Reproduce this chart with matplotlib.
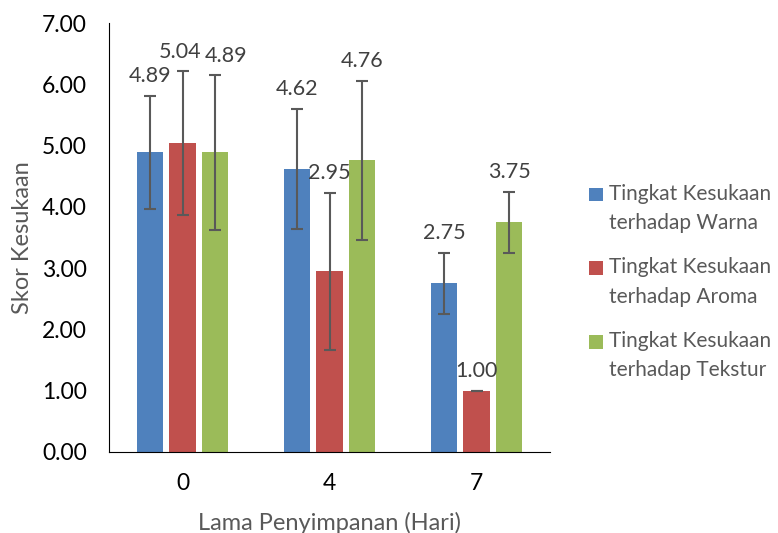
import matplotlib
matplotlib.use("Agg")
import matplotlib.pyplot as plt
from matplotlib.patches import Rectangle
from matplotlib.legend_handler import HandlerPatch
import numpy as np

plt.rcParams['font.family'] = ['Lato', 'DejaVu Sans']

categories = ["0", "4", "7"]
series_names = ["Tingkat Kesukaan\nterhadap Warna",
                "Tingkat Kesukaan\nterhadap Aroma",
                "Tingkat Kesukaan\nterhadap Tekstur"]
warna = [4.89, 4.62, 2.75]
aroma = [5.04, 2.95, 1.00]
tekstur = [4.89, 4.76, 3.75]
err_warna = [0.92, 0.98, 0.50]
err_aroma = [1.17, 1.28, 0.00]
err_tekstur = [1.26, 1.30, 0.50]
yticks = [0, 1, 2, 3, 4, 5, 6, 7]

colors = ["#4F81BD", "#C0504D", "#9BBB59"]
text_col = "#595959"

fig = plt.figure(figsize=(7.78, 5.33), dpi=100)
ax = fig.add_axes([109/778, 1-452/533, (550-109)/778, (452-23)/533])

x = np.arange(len(categories))
w = 0.177
off = 0.221
vals = [warna, aroma, tekstur]
errs = [err_warna, err_aroma, err_tekstur]
# small horizontal nudge (points) for crowded labels: (series, category) -> dx
nudge = {(2, 0): 8, (1, 0): -2}
handles = []
for i, (v, e, c, n) in enumerate(zip(vals, errs, colors, series_names)):
    pos = x + (i - 1) * off
    b = ax.bar(pos, v, width=w, color=c, label=n, zorder=2)
    handles.append(b)
    ax.errorbar(pos, v, yerr=e, fmt='none', ecolor="#595959", elinewidth=1.5,
                capsize=4, capthick=1.5, zorder=3)
    for j, (p, vv, ee) in enumerate(zip(pos, v, e)):
        ax.annotate(f"{vv:.2f}", (p, vv + ee), xytext=(nudge.get((i, j), 0), 14),
                    textcoords='offset points', ha='center', va='center',
                    fontsize=15.5, color="#404040")

ax.set_xlim(-0.5, 2.5)
ax.set_ylim(0, 7)
ax.set_yticks(yticks)
ax.set_yticklabels([f"{t:.2f}" for t in yticks], fontsize=16.5, color="black")
ax.set_xticks(x)
ax.set_xticklabels(categories, fontsize=16.5, color="black")
ax.tick_params(axis='x', length=0, pad=15)
ax.tick_params(axis='y', length=0, pad=16)
for s in ['top', 'right']:
    ax.spines[s].set_visible(False)
ax.spines['left'].set_color("black")
ax.spines['bottom'].set_color("black")
ax.set_ylabel("Skor Kesukaan", fontsize=17, color=text_col, labelpad=6)
ax.set_xlabel("Lama Penyimpanan (Hari)", fontsize=17, color=text_col, labelpad=13)


def top_square(legend, orig_handle, xdescent, ydescent, width, height, fontsize):
    return Rectangle((-xdescent, -ydescent + 0.7 * fontsize), width, height)


leg = fig.legend(handles=[h.patches[0] for h in handles], labels=series_names,
                 loc='center left', bbox_to_anchor=(589/778, 1-282/533),
                 frameon=False, fontsize=15, handlelength=0.65, handleheight=0.65,
                 handletextpad=0.3, labelspacing=1.15, borderpad=0,
                 borderaxespad=0, labelcolor=text_col,
                 handler_map={Rectangle: HandlerPatch(patch_func=top_square)})
for t in leg.get_texts():
    t.set_linespacing(1.6)

fig.savefig("out.png", dpi=100)
